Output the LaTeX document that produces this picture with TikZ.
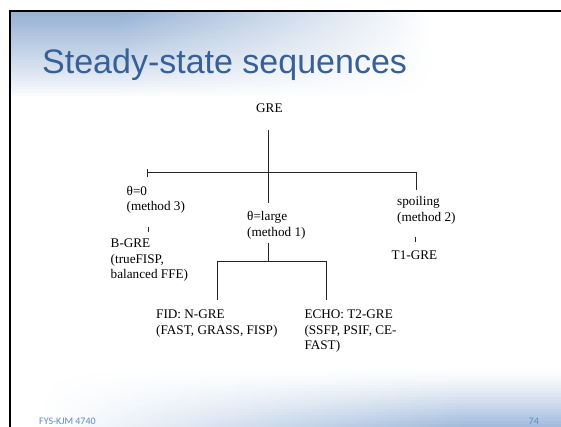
\documentclass[tikz,border=0pt]{standalone}
\usepackage{fontspec}
\setmainfont{Liberation Serif}
\newfontfamily\titlefont{Liberation Sans}
\newfontfamily\footfont{Carlito}
\definecolor{topblue}{RGB}{152,179,214}
\definecolor{botblue}{RGB}{163,188,221}
\definecolor{titleblue}{RGB}{56,96,152}
\definecolor{footblue}{RGB}{96,138,196}
\tikzset{
  lbl/.style={anchor=base west, inner sep=0pt, font=\fontsize{13.2}{15.5}\selectfont},
  conn/.style={line width=0.8pt, black!85},
}
\begin{document}
\begin{tikzpicture}[x=1pt,y=-1pt]
\useasboundingbox (0,0) rectangle (561,427);
\clip (0,0) rectangle (561,427);
\fill[white] (0,0) rectangle (561,427);
% top gradient band (solid cells)
\foreach \r in {0,...,27}{
  \foreach \c in {0,...,89}{
    \pgfmathsetmacro{\fx}{max(0,min(1,(430-(11+\c*5))/310))}
    \pgfmathsetmacro{\fy}{(1-\r/28)^0.9}
    \pgfmathsetmacro{\k}{100*\fx*\fy}
    \fill[topblue!\k!white] ({11+\c*5},{12+\r*3}) rectangle ({11+\c*5+5.4},{12+\r*3+3.4});
  }
}
% bottom gradient band (solid cells)
\foreach \r in {0,...,18}{
  \foreach \c in {0,...,109}{
    \pgfmathsetmacro{\fx}{max(0,min(1,((11+\c*5)-40)/420))}
    \pgfmathsetmacro{\fy}{((\r+1)/19)^1.3}
    \pgfmathsetmacro{\k}{100*\fx*\fy}
    \fill[botblue!\k!white] ({11+\c*5},{370+\r*3}) rectangle ({11+\c*5+5.4},{370+\r*3+3.4});
  }
}
% keep right edge clean
\fill[white] (540,12.4) rectangle (562,120);
% slide border
\draw[line width=2.6pt, black] (10,430) -- (10,9.7);
\draw[line width=2.6pt, black] (8.7,11) -- (565,11);
% title
\node[anchor=base west, inner sep=0pt, text=titleblue, font=\titlefont\fontsize{34}{40}\selectfont] (title) at (42,73.5) {Steady-state sequences};
% footer
\node[anchor=base west, inner sep=0pt, text=footblue, font=\footfont\fontsize{10}{12}\selectfont] (foot) at (39,424.3) {FYS-KJM 4740};
\node[anchor=base west, inner sep=0pt, text=footblue, font=\footfont\fontsize{10}{12}\selectfont] (page) at (528.5,424.3) {74};
% tree labels
\node[lbl] (gre) at (256,113) {GRE};
\node[lbl] (th0) at (126.5,195.5) {\begin{tabular}[t]{@{}l@{}}θ=0\\(method 3)\end{tabular}};
\node[lbl] (bgre) at (110.5,247.5) {\begin{tabular}[t]{@{}l@{}}B-GRE\\(trueFISP,\\balanced FFE)\end{tabular}};
\node[lbl] (thl) at (247,221) {\begin{tabular}[t]{@{}l@{}}θ=large\\(method 1)\end{tabular}};
\node[lbl] (spoil) at (397,206) {\begin{tabular}[t]{@{}l@{}}spoiling\\(method 2)\end{tabular}};
\node[lbl] (t1) at (391.5,259.5) {T1-GRE};
\node[lbl] (fid) at (156,318.5) {\begin{tabular}[t]{@{}l@{}}FID: N-GRE\\(FAST, GRASS, FISP)\end{tabular}};
\node[lbl] (echo) at (304.3,318.5) {\begin{tabular}[t]{@{}l@{}}ECHO: T2-GRE\\(SSFP, PSIF, CE-\\FAST)\end{tabular}};
% junction coordinates
\coordinate (gtop) at (268,130);
\coordinate (gbot) at (268,203);
\coordinate (barL) at (147.5,172.5);
\coordinate (barR) at (416,172.5);
\coordinate (tickLt) at (147.5,169.5);
\coordinate (tickLb) at (147.5,177);
\coordinate (rdrop) at (416,190);
\coordinate (lt1) at (148,227.5);
\coordinate (lt2) at (148,232);
\coordinate (rt1) at (415.7,237);
\coordinate (rt2) at (415.7,242);
\coordinate (m1) at (268,243);
\coordinate (m2) at (268,261.5);
\coordinate (lb) at (217.7,261.5);
\coordinate (rb) at (326.3,261.5);
\coordinate (lbd) at (217.7,300);
\coordinate (rbd) at (326.3,300);
% connectors
\draw[conn] (gtop) -- (gbot);
\draw[conn] (barL) -- (barR) -- (rdrop);
\draw[conn] (tickLt) -- (tickLb);
\draw[conn] (lt1) -- (lt2);
\draw[conn] (rt1) -- (rt2);
\draw[conn] (m1) -- (m2);
\draw[conn] (lbd) -- (lb) -- (rb) -- (rbd);
\end{tikzpicture}
\end{document}
